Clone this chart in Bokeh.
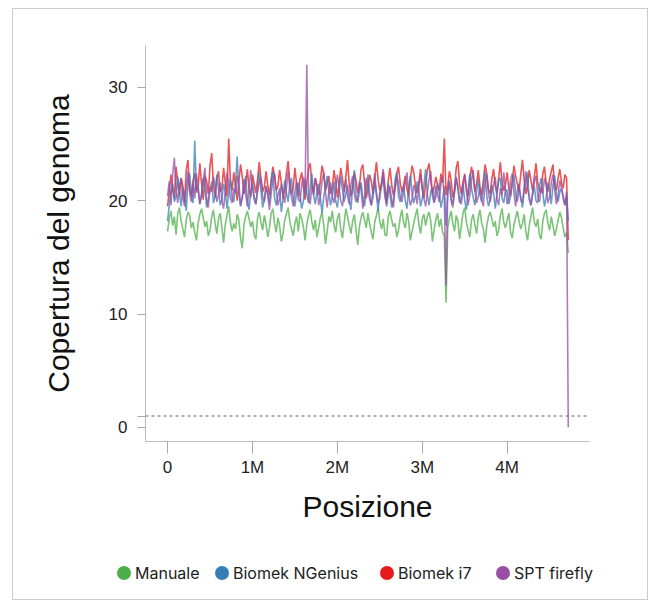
import numpy as np
from bokeh.plotting import figure
from bokeh.layouts import column, row
from bokeh.models import FixedTicker, Span, Range1d, Spacer, Div
from bokeh.embed import file_html
from bokeh.resources import INLINE

# ---------------- data ----------------
bin_size = 20000  # genome window size (bp)
threshold = 1     # dashed reference coverage

series_names = ["Manuale", "Biomek NGenius", "Biomek i7", "SPT firefly"]
series_colors = ["#4daf4a", "#377eb8", "#e41a1c", "#984ea3"]
draw_order = [0, 2, 1, 3]  # green below, purple on top

manuale = [
    17.3, 18.4, 19.1, 17.8, 18.6, 17.0, 18.9, 19.4, 18.2, 17.5, 16.8, 18.3, 19.0, 18.7, 17.6, 18.1, 17.2, 16.5, 18.0, 18.8,
    19.3, 18.5, 17.7, 18.2, 16.9, 17.4, 18.6, 19.2, 18.0, 17.1, 18.4, 18.9, 17.6, 16.3, 17.9, 18.7, 19.5, 18.1, 17.3, 18.0,
    17.5, 18.8, 18.3, 16.7, 15.8, 17.9, 18.6, 19.1, 18.4, 17.7, 18.2, 17.0, 16.6, 18.5, 19.0, 18.1, 17.4, 18.7, 17.9, 16.8,
    17.6, 18.9, 19.3, 18.0, 17.2, 18.5, 17.8, 16.4, 17.1, 18.3, 18.8, 19.4, 18.2, 17.5, 16.9, 18.0, 18.6, 17.3, 18.9, 18.4,
    17.7, 16.5, 17.9, 18.7, 19.2, 18.1, 17.4, 18.3, 16.8, 17.6, 18.5, 19.0, 17.8, 16.2, 17.3, 18.6, 18.1, 19.1, 17.9, 17.2,
    18.4, 18.9, 17.5, 16.7, 18.0, 19.3, 18.6, 17.8, 17.1, 18.2, 18.8, 17.4, 16.1, 17.7, 18.5, 19.0, 18.3, 17.6, 18.9, 18.0,
    17.2, 16.6, 18.1, 18.7, 19.4, 18.2, 17.5, 18.4, 17.0, 16.9, 18.6, 19.1, 18.3, 17.7, 18.0, 16.8, 17.4, 18.5, 19.2, 18.1,
    17.6, 18.9, 18.2, 16.5, 17.3, 18.0, 18.7, 19.3, 17.9, 17.1, 18.4, 18.8, 17.8, 18.6, 19.0, 18.2, 16.4, 17.5, 18.3, 18.9,
    17.7, 18.4, 17.2, 16.9, 11.0, 17.6, 18.5, 19.1, 18.0, 17.3, 18.7, 18.2, 16.6, 17.8, 18.9, 19.4, 18.1, 17.4, 16.8, 18.3,
    18.8, 17.9, 17.1, 18.5, 19.2, 18.0, 17.5, 16.3, 17.8, 18.6, 19.0, 18.4, 17.7, 18.2, 16.9, 17.4, 18.7, 19.3, 18.1, 17.6,
    18.3, 18.9, 17.2, 16.7, 17.9, 18.5, 19.1, 18.2, 17.5, 18.0, 18.8, 17.3, 16.5, 17.8, 18.6, 19.4, 18.1, 17.7, 18.4, 17.0,
    16.6, 18.2, 18.9, 19.2, 18.0, 17.4, 18.6, 17.8, 16.9, 17.5, 18.3, 19.0, 18.5, 17.6, 16.8, 17.2, 15.4,
]

biomek_ngenius = [
    18.2, 19.6, 20.8, 21.5, 19.9, 20.4, 22.1, 20.7, 19.5, 21.2, 20.3, 19.1, 21.8, 22.4, 20.6, 19.8, 25.3, 20.9, 21.3, 19.7,
    20.5, 22.0, 21.1, 19.4, 20.2, 20.9, 21.7, 19.8, 20.4, 22.3, 21.0, 19.6, 20.1, 21.5, 20.8, 19.3, 20.7, 21.9, 20.2, 19.9,
    21.4, 23.9, 20.6, 19.5, 20.3, 21.2, 22.2, 20.0, 19.2, 20.8, 21.6, 20.4, 19.7, 21.0, 22.5, 20.9, 19.4, 20.1, 21.3, 20.6,
    19.8, 21.7, 22.6, 20.3, 19.6, 20.5, 21.1, 19.0, 20.2, 21.8, 20.7, 19.9, 21.4, 22.0, 20.1, 19.5, 20.8, 21.6, 20.4, 19.3,
    20.0, 21.9, 20.6, 19.8, 21.2, 22.4, 20.5, 19.7, 20.9, 21.5, 20.2, 18.9, 20.4, 21.1, 22.2, 20.8, 19.6, 20.3, 21.7, 20.0,
    19.4, 20.7, 22.1, 21.0, 19.9, 20.6, 21.4, 20.1, 19.2, 21.3, 22.7, 20.4, 19.8, 20.9, 21.6, 20.2, 19.5, 21.0, 22.3, 20.7,
    19.6, 20.3, 21.8, 20.5, 19.1, 20.8, 21.2, 22.0, 20.3, 19.7, 21.5, 20.6, 19.4, 20.1, 21.9, 22.5, 20.4, 19.9, 20.7, 21.3,
    20.0, 19.3, 21.1, 22.2, 20.6, 19.8, 20.4, 21.7, 20.9, 19.5, 20.2, 21.4, 22.8, 20.5, 19.6, 20.8, 21.2, 19.9, 20.3, 21.6,
    20.7, 19.4, 20.1, 21.3, 17.8, 20.6, 21.8, 20.2, 19.7, 20.9, 22.1, 21.0, 19.8, 20.4, 21.5, 20.0, 19.2, 20.7, 22.4, 21.1,
    20.3, 19.6, 20.8, 21.9, 20.5, 19.9, 21.2, 22.6, 20.4, 19.5, 20.1, 21.4, 20.7, 19.3, 20.6, 21.8, 22.0, 20.2, 19.8, 21.0,
    20.9, 19.7, 20.4, 21.6, 22.3, 20.6, 19.9, 21.1, 20.3, 19.4, 20.8, 21.7, 22.5, 20.1, 19.6, 20.5, 21.3, 20.0, 19.8, 21.2,
    22.0, 20.7, 19.5, 20.3, 21.6, 20.9, 19.7, 21.4, 22.2, 20.5, 19.9, 20.8, 21.1, 20.2, 19.6, 20.4, 18.2,
]

biomek_i7 = [
    19.5, 20.9, 22.3, 21.1, 20.2, 23.0, 21.6, 20.4, 22.0, 21.3, 19.9, 22.7, 23.6, 21.0, 20.5, 21.8, 22.4, 20.7, 21.2, 23.3,
    21.5, 20.1, 22.2, 21.7, 20.6, 23.1, 24.2, 21.4, 20.3, 21.9, 22.6, 20.8, 21.1, 22.9, 21.6, 20.4, 25.5, 21.8, 20.9, 22.5,
    21.3, 20.0, 21.7, 23.2, 22.1, 20.6, 21.4, 22.8, 21.0, 20.3, 22.3, 21.5, 20.7, 21.9, 23.4, 22.0, 20.8, 21.2, 22.6, 21.4,
    20.5, 21.8, 23.0, 22.2, 20.9, 21.3, 22.7, 21.6, 20.2, 21.0, 22.4, 23.5, 21.7, 20.6, 21.1, 22.9, 21.5, 20.4, 21.9, 22.5,
    21.2, 20.1, 21.6, 22.8, 23.3, 21.4, 20.7, 22.0, 21.3, 20.5, 21.8, 23.1, 22.4, 20.9, 21.5, 22.2, 20.6, 21.0, 22.7, 21.7,
    20.3, 21.4, 22.9, 21.9, 20.8, 22.1, 23.6, 21.5, 20.4, 21.1, 22.5, 21.8, 20.7, 21.3, 22.8, 23.2, 21.6, 20.2, 21.0, 22.3,
    21.7, 20.6, 22.0, 23.4, 21.9, 20.9, 21.5, 22.6, 21.2, 20.1, 21.8, 22.9, 21.4, 20.5, 21.1, 22.4, 23.0, 21.6, 20.8, 21.3,
    22.2, 21.0, 20.4, 21.9, 23.1, 22.5, 21.3, 20.7, 21.6, 22.8, 21.1, 20.2, 21.5, 22.7, 23.3, 21.8, 20.6, 21.2, 22.1, 21.4,
    20.9, 22.4, 21.6, 25.5, 20.5, 21.3, 22.6, 21.8, 20.3, 21.0, 22.9, 23.5, 21.4, 20.6, 21.7, 22.3, 21.1, 20.4, 21.9, 23.0,
    22.1, 20.8, 21.5, 22.7, 21.2, 20.5, 21.8, 23.2, 22.4, 21.0, 20.6, 21.9, 22.8, 21.3, 20.7, 22.0, 23.4, 21.6, 20.9, 21.4,
    22.5, 21.1, 20.4, 21.7, 23.1, 22.2, 21.5, 20.8, 22.3, 23.6, 21.9, 20.6, 21.3, 22.7, 21.8, 20.9, 22.1, 23.3, 21.6, 21.0,
    20.7, 22.4, 23.0, 21.5, 20.8, 21.9, 22.6, 23.2, 21.4, 20.9, 22.0, 22.8, 21.6, 21.1, 22.3, 22.0, 16.5,
]

spt_firefly = [
    20.4, 21.7, 19.6, 22.3, 23.8, 20.9, 19.8, 21.4, 22.0, 20.3, 19.5, 21.1, 22.6, 20.7, 19.9, 21.5, 20.2, 22.4, 21.0, 19.7,
    20.6, 21.8, 22.9, 20.1, 19.4, 21.2, 20.8, 22.1, 21.3, 19.9, 20.5, 21.6, 20.0, 19.3, 20.9, 22.5, 21.4, 20.2, 19.8, 21.1,
    20.7, 22.2, 21.5, 19.6, 20.3, 21.9, 20.6, 19.5, 21.0, 22.7, 21.2, 20.1, 19.7, 20.8, 21.6, 22.0, 20.4, 19.9, 21.3, 20.5,
    19.2, 20.6, 21.8, 22.4, 20.9, 19.6, 20.2, 21.5, 20.7, 19.8, 21.1, 22.6, 21.0, 20.3, 19.5, 20.8, 21.7, 20.1, 19.9, 21.4,
    22.1, 20.6, 32.0, 20.2, 19.7, 21.3, 20.5, 22.0, 21.2, 19.6, 20.4, 21.8, 22.5, 20.7, 19.4, 20.9, 21.6, 20.3, 19.8, 21.0,
    22.3, 21.1, 20.0, 19.5, 20.8, 21.9, 20.4, 19.7, 21.4, 22.2, 20.6, 19.9, 20.3, 21.7, 20.9, 19.3, 20.5, 22.0, 21.2, 20.1,
    19.6, 21.0, 22.4, 20.7, 19.8, 20.2, 21.5, 22.8, 20.9, 19.5, 20.6, 21.3, 20.0, 19.4, 21.1, 22.1, 21.6, 20.3, 19.9, 20.8,
    21.7, 22.5, 20.5, 19.6, 20.1, 21.4, 20.8, 19.7, 21.2, 22.3, 21.0, 20.2, 19.5, 20.7, 21.9, 22.6, 20.4, 19.8, 21.3, 20.6,
    19.9, 21.5, 22.2, 20.3, 12.5, 20.9, 21.6, 20.0, 19.4, 20.7, 22.0, 21.3, 20.1, 19.7, 21.0, 22.4, 20.8, 19.6, 20.5, 21.8,
    22.7, 20.9, 19.8, 20.4, 21.2, 20.0, 19.5, 21.6, 22.3, 20.6, 19.9, 20.8, 21.4, 22.1, 20.2, 19.6, 21.1, 20.5, 22.5, 21.0,
    19.7, 20.3, 21.8, 22.4, 20.7, 19.5, 20.9, 21.5, 20.1, 19.8, 21.3, 22.6, 21.0, 20.4, 19.6, 20.8, 21.7, 22.2, 20.5, 19.9,
    21.2, 20.6, 22.0, 21.4, 19.8, 20.3, 21.6, 22.3, 20.9, 19.7, 20.5, 21.8, 21.1, 20.4, 19.6, 20.8, 0.0,
]

series_values = [manuale, biomek_ngenius, biomek_i7, spt_firefly]

x_ticks = [0, 1000000, 2000000, 3000000, 4000000]
x_tick_labels = ["0", "1M", "2M", "3M", "4M"]
y_ticks = [0, 1, 10, 20, 30]
y_tick_labels = ["0", "", "10", "20", "30"]

# ---------------- main figure ----------------
p = figure(width=636, height=527, output_backend="svg", toolbar_location=None,
           x_range=Range1d(-260000, 4970000), y_range=Range1d(-1.25, 33.7),
           min_border_left=132, min_border_right=60, min_border_top=36, min_border_bottom=95,
           styles={"border-top": "1px solid #cccccc", "border-left": "1px solid #cccccc",
                   "border-right": "1px solid #cccccc"})
p.grid.visible = False
p.outline_line_color = None
p.background_fill_color = "white"
p.border_fill_color = "white"

p.add_layout(Span(location=threshold, dimension="width", line_color="#666666",
                  line_dash="3 3", line_width=1.2))

for i in draw_order:
    vals = series_values[i]
    xs = np.arange(len(vals)) * bin_size
    p.line(xs, vals, line_color=series_colors[i], line_width=1.6, line_alpha=0.75)

for ax in (p.xaxis[0], p.yaxis[0]):
    ax.axis_line_color = "#bbbbbb"
    ax.major_tick_line_color = "#aaaaaa"
    ax.minor_tick_line_color = None
    ax.major_tick_in = 0
    ax.major_label_text_font = "Liberation Sans"
    ax.major_label_text_font_size = "17px"
    ax.major_label_text_color = "#222222"
    ax.axis_label_text_font = "Liberation Sans"
    ax.axis_label_text_font_size = "30px"
    ax.axis_label_text_font_style = "normal"
    ax.axis_label_text_color = "#111111"

p.xaxis.ticker = FixedTicker(ticks=x_ticks)
p.xaxis.major_label_overrides = dict(zip(x_ticks, x_tick_labels))
p.xaxis.major_tick_out = 12
p.xaxis.major_label_standoff = 4
p.xaxis.axis_label = "Posizione"
p.xaxis.axis_label_standoff = 10

p.yaxis.ticker = FixedTicker(ticks=y_ticks)
p.yaxis.major_label_overrides = dict(zip(y_ticks, y_tick_labels))
p.yaxis.major_tick_out = 8
p.yaxis.major_label_standoff = 10
p.yaxis.axis_label = "Copertura del genoma"
p.yaxis.axis_label_standoff = 31

# ---------------- legend strip ----------------
item_widths = [98, 165, 116, 110]
items_html = "".join(
    f'<div style="display:flex;align-items:center;width:{w}px;height:20px;">'
    f'<span style="display:inline-block;width:14px;height:14px;border-radius:50%;'
    f'background:{c};margin-right:4px;"></span>{n}</div>'
    for n, c, w in zip(series_names, series_colors, item_widths)
)
legend_html = (
    '<div style="display:flex;align-items:center;padding-top:28px;padding-left:104px;'
    'font-family:Inter;font-size:16px;color:#222222;white-space:nowrap;">'
    + items_html + '</div>'
)
lf = Div(text=legend_html, width=636, height=65, margin=(0, 0, 0, 0),
         styles={"border-bottom": "1px solid #cccccc", "border-left": "1px solid #cccccc",
                 "border-right": "1px solid #cccccc", "background": "white"})

layout = column(Spacer(height=8), row(Spacer(width=12), column(p, lf)))
open("out.html", "w").write(file_html(layout, INLINE))
